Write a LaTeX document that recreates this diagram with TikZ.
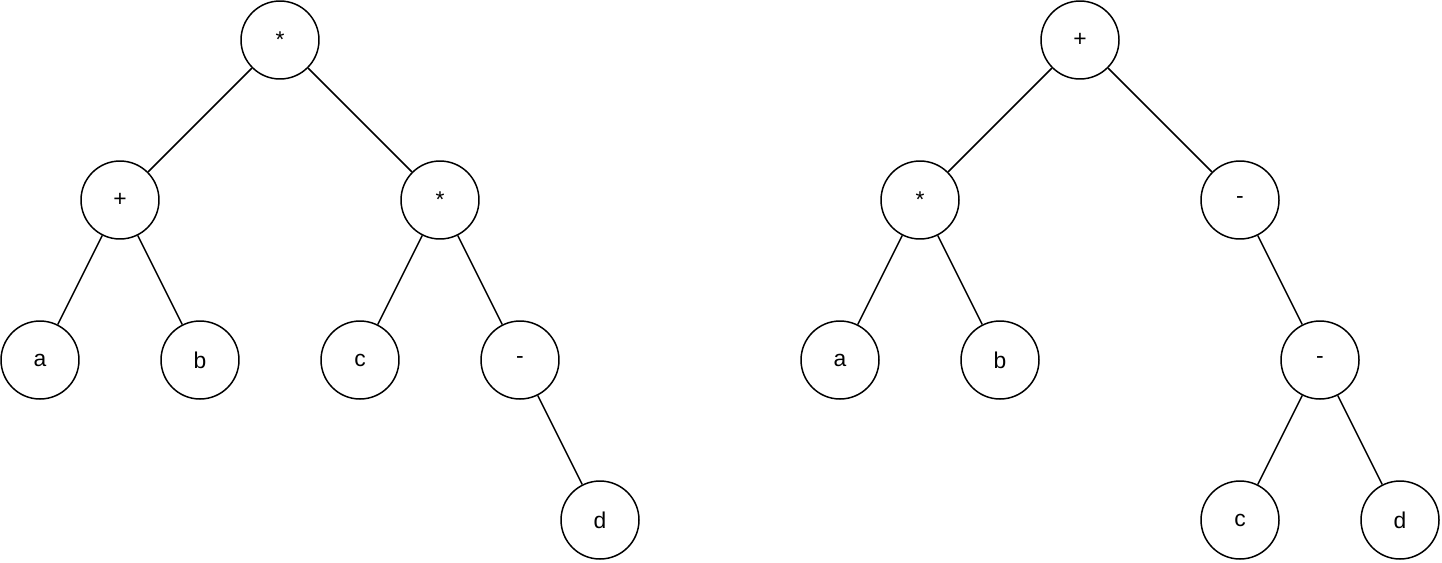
\documentclass[tikz,border=0pt]{standalone}
\usepackage{fontspec}
\setmainfont{Liberation Sans}
\begin{document}
\begin{tikzpicture}[x=0.02cm,y=-0.02cm,
  n/.style={circle,draw,line width=0.85pt,minimum size=1.56cm,inner sep=0pt,font=\fontsize{13}{15}\selectfont},
  e/.style={line width=0.85pt}]
\useasboundingbox (0,0) rectangle (1442,562);
% left tree
\node[n] (r1) at (280,40) {*};
\node[n] (p1) at (120,200) {+};
\node[n] (m1) at (440,200) {*};
\node[n] (a1) at (40,360) {a};
\node[n] (b1) at (200,360) {b};
\node[n] (c1) at (360,360) {c};
\node[n] (s1) at (520,360) {-};
\node[n] (d1) at (600,520) {d};
\draw[e] (r1)--(p1); \draw[e] (r1)--(m1);
\draw[e] (p1)--(a1); \draw[e] (p1)--(b1);
\draw[e] (m1)--(c1); \draw[e] (m1)--(s1);
\draw[e] (s1)--(d1);
% right tree
\node[n] (r2) at (1080,40) {+};
\node[n] (m2) at (920,200) {*};
\node[n] (s2) at (1240,200) {-};
\node[n] (a2) at (840,360) {a};
\node[n] (b2) at (1000,360) {b};
\node[n] (t2) at (1320,360) {-};
\node[n] (c2) at (1240,520) {c};
\node[n] (d2) at (1400,520) {d};
\draw[e] (r2)--(m2); \draw[e] (r2)--(s2);
\draw[e] (m2)--(a2); \draw[e] (m2)--(b2);
\draw[e] (s2)--(t2);
\draw[e] (t2)--(c2); \draw[e] (t2)--(d2);
\end{tikzpicture}
\end{document}
